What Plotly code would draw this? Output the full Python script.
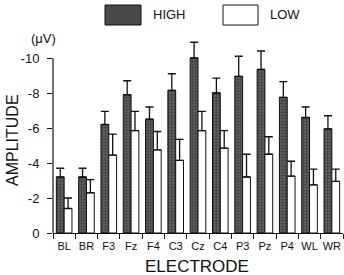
import plotly.graph_objects as go

electrodes = ["BL", "BR", "F3", "Fz", "F4", "C3", "Cz", "C4", "P3", "Pz", "P4", "WL", "WR"]
high_vals = [-3.2, -3.2, -6.2, -7.9, -6.5, -8.15, -10.0, -8.0, -8.95, -9.35, -7.75, -6.6, -5.95]
high_err = [0.5, 0.5, 0.75, 0.8, 0.7, 0.95, 0.9, 0.85, 1.15, 1.05, 0.9, 0.6, 0.75]
low_vals = [-1.4, -2.3, -4.45, -5.85, -4.75, -4.15, -5.85, -4.85, -3.2, -4.5, -3.25, -2.75, -2.95]
low_err = [0.6, 0.75, 1.2, 1.1, 1.05, 1.2, 1.1, 1.0, 1.3, 1.0, 0.85, 0.9, 0.7]
ytick_vals = [0, -2, -4, -6, -8, -10]
ytick_text = ["0", "-2", "-4", "-6", "-8", "-10"]

FONT = "Liberation Sans, Arial, sans-serif"

fig = go.Figure()
fig.add_trace(go.Bar(
    x=electrodes, y=high_vals, name="HIGH",
    marker=dict(color="#4e4e4e", line=dict(color="#111", width=1),
                pattern=dict(shape=".", fgcolor="#1a1a1a", bgcolor="#666", size=3, solidity=0.5)),
    error_y=dict(type="data", symmetric=False, array=[0]*len(high_err), arrayminus=high_err,
                 color="#111", thickness=1.3, width=4),
))
fig.add_trace(go.Bar(
    x=electrodes, y=low_vals, name="LOW",
    marker=dict(color="white", line=dict(color="#111", width=1)),
    error_y=dict(type="data", symmetric=False, array=[0]*len(low_err), arrayminus=low_err,
                 color="#111", thickness=1.3, width=4),
))

# y axis line only from 0 to -10
fig.add_shape(type="line", xref="paper", yref="y", x0=0, x1=0, y0=0, y1=-10,
              line=dict(color="#111", width=1.2))

# legend drawn manually
fig.add_shape(type="rect", xref="paper", yref="paper", x0=(105-53)/290, x1=(141-53)/290,
              y0=(275-42-25)/203, y1=(275-42-5)/203,
              fillcolor="#4a4a4a", line=dict(color="#111", width=1))
fig.add_shape(type="rect", xref="paper", yref="paper", x0=(223-53)/290, x1=(258-53)/290,
              y0=(275-42-25)/203, y1=(275-42-5)/203,
              fillcolor="white", line=dict(color="#111", width=1))
fig.add_annotation(x=(151-53)/290, y=(275-42-15)/203, xref="paper", yref="paper",
                   text="HIGH", showarrow=False, xanchor="left", yanchor="middle",
                   font=dict(family=FONT, size=13, color="#111"))
fig.add_annotation(x=(268-53)/290, y=(275-42-15)/203, xref="paper", yref="paper",
                   text="LOW", showarrow=False, xanchor="left", yanchor="middle",
                   font=dict(family=FONT, size=13, color="#111"))
fig.add_annotation(x=(43-53)/290, y=(275-42-39)/203, xref="paper", yref="paper",
                   text="(μV)", showarrow=False, xanchor="center", yanchor="middle",
                   font=dict(family=FONT, size=13, color="#111"))
fig.add_annotation(x=(12-53)/290, y=(275-42-140)/203, xref="paper", yref="paper",
                   text="AMPLITUDE", showarrow=False, textangle=-90,
                   xanchor="center", yanchor="middle",
                   font=dict(family=FONT, size=16, color="#111"))
fig.add_annotation(x=(197-53)/290, y=(275-42-266)/203, xref="paper", yref="paper",
                   text="ELECTRODE", showarrow=False, xanchor="center", yanchor="middle",
                   font=dict(family=FONT, size=17, color="#111"))

fig.update_layout(
    width=344, height=275,
    margin=dict(l=53, r=1, t=30, b=42),
    paper_bgcolor="white", plot_bgcolor="white",
    barmode="group", bargap=0.3, bargroupgap=0,
    showlegend=False,
    font=dict(family=FONT, color="#111"),
)
fig.update_xaxes(
    showline=True, linecolor="#111", linewidth=1.2,
    ticks="outside", tickson="boundaries", ticklen=5, tickcolor="#111",
    tickfont=dict(size=11), tickangle=0, showgrid=False, fixedrange=True,
    ticklabelstandoff=3,
)
fig.update_yaxes(
    range=[0, -11.6], tickvals=ytick_vals, ticktext=ytick_text,
    ticks="outside", ticklen=5, tickcolor="#111", tickfont=dict(size=13),
    showline=False, showgrid=False, zeroline=False, ticklabelstandoff=5,
)

fig.write_html("out.html")
